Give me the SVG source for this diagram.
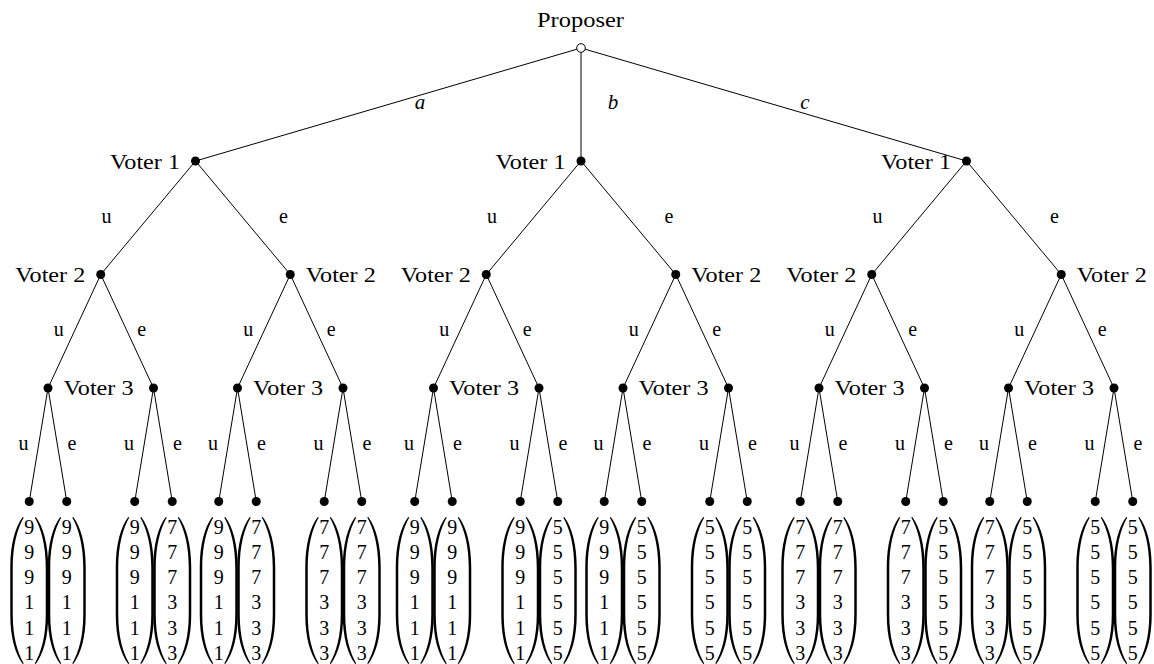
<svg xmlns="http://www.w3.org/2000/svg" xmlns:xlink="http://www.w3.org/1999/xlink" width="1154" height="664" viewBox="0 0 1154 664">
<style>
.lbl{font-family:"Liberation Serif","Times New Roman",serif;font-size:21px;fill:#000}
.it{font-family:"Liberation Serif","Times New Roman",serif;font-size:21px;font-style:italic;fill:#000;text-anchor:middle}
.el{font-family:"Liberation Serif","Times New Roman",serif;font-size:20px;fill:#000;text-anchor:middle}
.num{font-family:"Liberation Serif","Times New Roman",serif;font-size:20px;fill:#000;text-anchor:middle}
.end{text-anchor:end}
.edge line{stroke:#000;stroke-width:1}
.dot{fill:#000}
</style>
<defs>
<path id="lp" d="M -6.5,517 C -14,527 -19,544 -19,568 L -19,614 C -19,638 -14,654 -6.5,664 L -5.5,663.5 C -12,652 -16.5,637 -16.5,614 L -16.5,568 C -16.5,545 -12,529 -5.5,517.5 Z" fill="#000"/>
</defs>
<rect width="1154" height="664" fill="#fff"/>
<g id="connectors" class="edge">
<line x1="581" y1="48" x2="195.5" y2="161"/><line x1="581" y1="48" x2="581" y2="161"/><line x1="581" y1="48" x2="966.5" y2="161"/>
<line x1="195.5" y1="161" x2="100.75" y2="274.5"/><line x1="195.5" y1="161" x2="290.25" y2="274.5"/>
<line x1="100.75" y1="274.5" x2="48" y2="388"/><line x1="100.75" y1="274.5" x2="153.5" y2="388"/>
<line x1="290.25" y1="274.5" x2="237.5" y2="388"/><line x1="290.25" y1="274.5" x2="343" y2="388"/>
<line x1="48" y1="388" x2="29.25" y2="501.5"/><line x1="48" y1="388" x2="66.75" y2="501.5"/>
<line x1="153.5" y1="388" x2="134.75" y2="501.5"/><line x1="153.5" y1="388" x2="172.25" y2="501.5"/>
<line x1="237.5" y1="388" x2="218.75" y2="501.5"/><line x1="237.5" y1="388" x2="256.25" y2="501.5"/>
<line x1="343" y1="388" x2="324.25" y2="501.5"/><line x1="343" y1="388" x2="361.75" y2="501.5"/>
<line x1="581" y1="161" x2="486.25" y2="274.5"/><line x1="581" y1="161" x2="675.75" y2="274.5"/>
<line x1="486.25" y1="274.5" x2="433.5" y2="388"/><line x1="486.25" y1="274.5" x2="539" y2="388"/>
<line x1="675.75" y1="274.5" x2="623" y2="388"/><line x1="675.75" y1="274.5" x2="728.5" y2="388"/>
<line x1="433.5" y1="388" x2="414.75" y2="501.5"/><line x1="433.5" y1="388" x2="452.25" y2="501.5"/>
<line x1="539" y1="388" x2="520.25" y2="501.5"/><line x1="539" y1="388" x2="557.75" y2="501.5"/>
<line x1="623" y1="388" x2="604.25" y2="501.5"/><line x1="623" y1="388" x2="641.75" y2="501.5"/>
<line x1="728.5" y1="388" x2="709.75" y2="501.5"/><line x1="728.5" y1="388" x2="747.25" y2="501.5"/>
<line x1="966.5" y1="161" x2="871.75" y2="274.5"/><line x1="966.5" y1="161" x2="1061.25" y2="274.5"/>
<line x1="871.75" y1="274.5" x2="819" y2="388"/><line x1="871.75" y1="274.5" x2="924.5" y2="388"/>
<line x1="1061.25" y1="274.5" x2="1008.5" y2="388"/><line x1="1061.25" y1="274.5" x2="1114" y2="388"/>
<line x1="819" y1="388" x2="800.25" y2="501.5"/><line x1="819" y1="388" x2="837.75" y2="501.5"/>
<line x1="924.5" y1="388" x2="905.75" y2="501.5"/><line x1="924.5" y1="388" x2="943.25" y2="501.5"/>
<line x1="1008.5" y1="388" x2="989.75" y2="501.5"/><line x1="1008.5" y1="388" x2="1027.25" y2="501.5"/>
<line x1="1114" y1="388" x2="1095.25" y2="501.5"/><line x1="1114" y1="388" x2="1132.75" y2="501.5"/>
</g>
<g id="edge-labels">
<text class="it" x="420" y="109">a</text><text class="it" x="613" y="109">b</text><text class="it" x="805" y="109">c</text>
<text class="el" x="106.5" y="223">u</text><text class="el" x="283.5" y="223">e</text>
<text class="el" x="492" y="223">u</text><text class="el" x="669" y="223">e</text>
<text class="el" x="877.5" y="223">u</text><text class="el" x="1054.5" y="223">e</text>
<text class="el" x="58.75" y="336">u</text><text class="el" x="141.75" y="336">e</text>
<text class="el" x="248.25" y="336">u</text><text class="el" x="331.25" y="336">e</text>
<text class="el" x="444.25" y="336">u</text><text class="el" x="527.25" y="336">e</text>
<text class="el" x="633.75" y="336">u</text><text class="el" x="716.75" y="336">e</text>
<text class="el" x="829.75" y="336">u</text><text class="el" x="912.75" y="336">e</text>
<text class="el" x="1019.25" y="336">u</text><text class="el" x="1102.25" y="336">e</text>
<text class="el" x="23.5" y="450">u</text><text class="el" x="72" y="450">e</text>
<text class="el" x="129" y="450">u</text><text class="el" x="177.5" y="450">e</text>
<text class="el" x="213" y="450">u</text><text class="el" x="261.5" y="450">e</text>
<text class="el" x="318.5" y="450">u</text><text class="el" x="367" y="450">e</text>
<text class="el" x="409" y="450">u</text><text class="el" x="457.5" y="450">e</text>
<text class="el" x="514.5" y="450">u</text><text class="el" x="563" y="450">e</text>
<text class="el" x="598.5" y="450">u</text><text class="el" x="647" y="450">e</text>
<text class="el" x="704" y="450">u</text><text class="el" x="752.5" y="450">e</text>
<text class="el" x="794.5" y="450">u</text><text class="el" x="843" y="450">e</text>
<text class="el" x="900" y="450">u</text><text class="el" x="948.5" y="450">e</text>
<text class="el" x="984" y="450">u</text><text class="el" x="1032.5" y="450">e</text>
<text class="el" x="1089.5" y="450">u</text><text class="el" x="1138" y="450">e</text>
</g>
<g id="proposer"><circle cx="581" cy="48" r="4.3" fill="#fff" stroke="#000" stroke-width="1"/><text class="lbl" x="537" y="27" textLength="87" lengthAdjust="spacingAndGlyphs">Proposer</text></g>
<g id="v1a"><circle class="dot" cx="195.5" cy="161" r="4.5"/><text class="lbl" x="110" y="169" textLength="70" lengthAdjust="spacingAndGlyphs">Voter 1</text></g>
<g id="v1b"><circle class="dot" cx="581" cy="161" r="4.5"/><text class="lbl" x="495.5" y="169" textLength="70" lengthAdjust="spacingAndGlyphs">Voter 1</text></g>
<g id="v1c"><circle class="dot" cx="966.5" cy="161" r="4.5"/><text class="lbl" x="881" y="169" textLength="70" lengthAdjust="spacingAndGlyphs">Voter 1</text></g>
<g id="v2a1"><circle class="dot" cx="100.75" cy="274.5" r="4.5"/><text class="lbl" x="15.25" y="282" textLength="70" lengthAdjust="spacingAndGlyphs">Voter 2</text></g>
<g id="v2a2"><circle class="dot" cx="290.25" cy="274.5" r="4.5"/><text class="lbl" x="305.75" y="282" textLength="70" lengthAdjust="spacingAndGlyphs">Voter 2</text></g>
<g id="v2b1"><circle class="dot" cx="486.25" cy="274.5" r="4.5"/><text class="lbl" x="400.75" y="282" textLength="70" lengthAdjust="spacingAndGlyphs">Voter 2</text></g>
<g id="v2b2"><circle class="dot" cx="675.75" cy="274.5" r="4.5"/><text class="lbl" x="691.25" y="282" textLength="70" lengthAdjust="spacingAndGlyphs">Voter 2</text></g>
<g id="v2c1"><circle class="dot" cx="871.75" cy="274.5" r="4.5"/><text class="lbl" x="786.25" y="282" textLength="70" lengthAdjust="spacingAndGlyphs">Voter 2</text></g>
<g id="v2c2"><circle class="dot" cx="1061.25" cy="274.5" r="4.5"/><text class="lbl" x="1076.75" y="282" textLength="70" lengthAdjust="spacingAndGlyphs">Voter 2</text></g>
<g id="v3a1"><circle class="dot" cx="48" cy="388" r="4.5"/><text class="lbl" x="63.5" y="395" textLength="70" lengthAdjust="spacingAndGlyphs">Voter 3</text></g>
<g id="v3a2"><circle class="dot" cx="153.5" cy="388" r="4.5"/></g>
<g id="v3a3"><circle class="dot" cx="237.5" cy="388" r="4.5"/><text class="lbl" x="253" y="395" textLength="70" lengthAdjust="spacingAndGlyphs">Voter 3</text></g>
<g id="v3a4"><circle class="dot" cx="343" cy="388" r="4.5"/></g>
<g id="v3b1"><circle class="dot" cx="433.5" cy="388" r="4.5"/><text class="lbl" x="449" y="395" textLength="70" lengthAdjust="spacingAndGlyphs">Voter 3</text></g>
<g id="v3b2"><circle class="dot" cx="539" cy="388" r="4.5"/></g>
<g id="v3b3"><circle class="dot" cx="623" cy="388" r="4.5"/><text class="lbl" x="638.5" y="395" textLength="70" lengthAdjust="spacingAndGlyphs">Voter 3</text></g>
<g id="v3b4"><circle class="dot" cx="728.5" cy="388" r="4.5"/></g>
<g id="v3c1"><circle class="dot" cx="819" cy="388" r="4.5"/><text class="lbl" x="834.5" y="395" textLength="70" lengthAdjust="spacingAndGlyphs">Voter 3</text></g>
<g id="v3c2"><circle class="dot" cx="924.5" cy="388" r="4.5"/></g>
<g id="v3c3"><circle class="dot" cx="1008.5" cy="388" r="4.5"/><text class="lbl" x="1024" y="395" textLength="70" lengthAdjust="spacingAndGlyphs">Voter 3</text></g>
<g id="v3c4"><circle class="dot" cx="1114" cy="388" r="4.5"/></g>

<g id="leaf1" transform="translate(29.25,0)"><circle class="dot" cx="0" cy="501.5" r="4.5"/><use xlink:href="#lp" href="#lp"/><use xlink:href="#lp" href="#lp" transform="scale(-1,1)"/><text class="num"><tspan x="0" y="533.5">9</tspan><tspan x="0" y="558.8">9</tspan><tspan x="0" y="584.1">9</tspan><tspan x="0" y="609.4">1</tspan><tspan x="0" y="634.7">1</tspan><tspan x="0" y="660">1</tspan></text></g>
<g id="leaf2" transform="translate(66.75,0)"><circle class="dot" cx="0" cy="501.5" r="4.5"/><use xlink:href="#lp" href="#lp"/><use xlink:href="#lp" href="#lp" transform="scale(-1,1)"/><text class="num"><tspan x="0" y="533.5">9</tspan><tspan x="0" y="558.8">9</tspan><tspan x="0" y="584.1">9</tspan><tspan x="0" y="609.4">1</tspan><tspan x="0" y="634.7">1</tspan><tspan x="0" y="660">1</tspan></text></g>
<g id="leaf3" transform="translate(134.75,0)"><circle class="dot" cx="0" cy="501.5" r="4.5"/><use xlink:href="#lp" href="#lp"/><use xlink:href="#lp" href="#lp" transform="scale(-1,1)"/><text class="num"><tspan x="0" y="533.5">9</tspan><tspan x="0" y="558.8">9</tspan><tspan x="0" y="584.1">9</tspan><tspan x="0" y="609.4">1</tspan><tspan x="0" y="634.7">1</tspan><tspan x="0" y="660">1</tspan></text></g>
<g id="leaf4" transform="translate(172.25,0)"><circle class="dot" cx="0" cy="501.5" r="4.5"/><use xlink:href="#lp" href="#lp"/><use xlink:href="#lp" href="#lp" transform="scale(-1,1)"/><text class="num"><tspan x="0" y="533.5">7</tspan><tspan x="0" y="558.8">7</tspan><tspan x="0" y="584.1">7</tspan><tspan x="0" y="609.4">3</tspan><tspan x="0" y="634.7">3</tspan><tspan x="0" y="660">3</tspan></text></g>
<g id="leaf5" transform="translate(218.75,0)"><circle class="dot" cx="0" cy="501.5" r="4.5"/><use xlink:href="#lp" href="#lp"/><use xlink:href="#lp" href="#lp" transform="scale(-1,1)"/><text class="num"><tspan x="0" y="533.5">9</tspan><tspan x="0" y="558.8">9</tspan><tspan x="0" y="584.1">9</tspan><tspan x="0" y="609.4">1</tspan><tspan x="0" y="634.7">1</tspan><tspan x="0" y="660">1</tspan></text></g>
<g id="leaf6" transform="translate(256.25,0)"><circle class="dot" cx="0" cy="501.5" r="4.5"/><use xlink:href="#lp" href="#lp"/><use xlink:href="#lp" href="#lp" transform="scale(-1,1)"/><text class="num"><tspan x="0" y="533.5">7</tspan><tspan x="0" y="558.8">7</tspan><tspan x="0" y="584.1">7</tspan><tspan x="0" y="609.4">3</tspan><tspan x="0" y="634.7">3</tspan><tspan x="0" y="660">3</tspan></text></g>
<g id="leaf7" transform="translate(324.25,0)"><circle class="dot" cx="0" cy="501.5" r="4.5"/><use xlink:href="#lp" href="#lp"/><use xlink:href="#lp" href="#lp" transform="scale(-1,1)"/><text class="num"><tspan x="0" y="533.5">7</tspan><tspan x="0" y="558.8">7</tspan><tspan x="0" y="584.1">7</tspan><tspan x="0" y="609.4">3</tspan><tspan x="0" y="634.7">3</tspan><tspan x="0" y="660">3</tspan></text></g>
<g id="leaf8" transform="translate(361.75,0)"><circle class="dot" cx="0" cy="501.5" r="4.5"/><use xlink:href="#lp" href="#lp"/><use xlink:href="#lp" href="#lp" transform="scale(-1,1)"/><text class="num"><tspan x="0" y="533.5">7</tspan><tspan x="0" y="558.8">7</tspan><tspan x="0" y="584.1">7</tspan><tspan x="0" y="609.4">3</tspan><tspan x="0" y="634.7">3</tspan><tspan x="0" y="660">3</tspan></text></g>

<g id="leaf9" transform="translate(414.75,0)"><circle class="dot" cx="0" cy="501.5" r="4.5"/><use xlink:href="#lp" href="#lp"/><use xlink:href="#lp" href="#lp" transform="scale(-1,1)"/><text class="num"><tspan x="0" y="533.5">9</tspan><tspan x="0" y="558.8">9</tspan><tspan x="0" y="584.1">9</tspan><tspan x="0" y="609.4">1</tspan><tspan x="0" y="634.7">1</tspan><tspan x="0" y="660">1</tspan></text></g>
<g id="leaf10" transform="translate(452.25,0)"><circle class="dot" cx="0" cy="501.5" r="4.5"/><use xlink:href="#lp" href="#lp"/><use xlink:href="#lp" href="#lp" transform="scale(-1,1)"/><text class="num"><tspan x="0" y="533.5">9</tspan><tspan x="0" y="558.8">9</tspan><tspan x="0" y="584.1">9</tspan><tspan x="0" y="609.4">1</tspan><tspan x="0" y="634.7">1</tspan><tspan x="0" y="660">1</tspan></text></g>
<g id="leaf11" transform="translate(520.25,0)"><circle class="dot" cx="0" cy="501.5" r="4.5"/><use xlink:href="#lp" href="#lp"/><use xlink:href="#lp" href="#lp" transform="scale(-1,1)"/><text class="num"><tspan x="0" y="533.5">9</tspan><tspan x="0" y="558.8">9</tspan><tspan x="0" y="584.1">9</tspan><tspan x="0" y="609.4">1</tspan><tspan x="0" y="634.7">1</tspan><tspan x="0" y="660">1</tspan></text></g>
<g id="leaf12" transform="translate(557.75,0)"><circle class="dot" cx="0" cy="501.5" r="4.5"/><use xlink:href="#lp" href="#lp"/><use xlink:href="#lp" href="#lp" transform="scale(-1,1)"/><text class="num"><tspan x="0" y="533.5">5</tspan><tspan x="0" y="558.8">5</tspan><tspan x="0" y="584.1">5</tspan><tspan x="0" y="609.4">5</tspan><tspan x="0" y="634.7">5</tspan><tspan x="0" y="660">5</tspan></text></g>
<g id="leaf13" transform="translate(604.25,0)"><circle class="dot" cx="0" cy="501.5" r="4.5"/><use xlink:href="#lp" href="#lp"/><use xlink:href="#lp" href="#lp" transform="scale(-1,1)"/><text class="num"><tspan x="0" y="533.5">9</tspan><tspan x="0" y="558.8">9</tspan><tspan x="0" y="584.1">9</tspan><tspan x="0" y="609.4">1</tspan><tspan x="0" y="634.7">1</tspan><tspan x="0" y="660">1</tspan></text></g>
<g id="leaf14" transform="translate(641.75,0)"><circle class="dot" cx="0" cy="501.5" r="4.5"/><use xlink:href="#lp" href="#lp"/><use xlink:href="#lp" href="#lp" transform="scale(-1,1)"/><text class="num"><tspan x="0" y="533.5">5</tspan><tspan x="0" y="558.8">5</tspan><tspan x="0" y="584.1">5</tspan><tspan x="0" y="609.4">5</tspan><tspan x="0" y="634.7">5</tspan><tspan x="0" y="660">5</tspan></text></g>
<g id="leaf15" transform="translate(709.75,0)"><circle class="dot" cx="0" cy="501.5" r="4.5"/><use xlink:href="#lp" href="#lp"/><use xlink:href="#lp" href="#lp" transform="scale(-1,1)"/><text class="num"><tspan x="0" y="533.5">5</tspan><tspan x="0" y="558.8">5</tspan><tspan x="0" y="584.1">5</tspan><tspan x="0" y="609.4">5</tspan><tspan x="0" y="634.7">5</tspan><tspan x="0" y="660">5</tspan></text></g>
<g id="leaf16" transform="translate(747.25,0)"><circle class="dot" cx="0" cy="501.5" r="4.5"/><use xlink:href="#lp" href="#lp"/><use xlink:href="#lp" href="#lp" transform="scale(-1,1)"/><text class="num"><tspan x="0" y="533.5">5</tspan><tspan x="0" y="558.8">5</tspan><tspan x="0" y="584.1">5</tspan><tspan x="0" y="609.4">5</tspan><tspan x="0" y="634.7">5</tspan><tspan x="0" y="660">5</tspan></text></g>

<g id="leaf17" transform="translate(800.25,0)"><circle class="dot" cx="0" cy="501.5" r="4.5"/><use xlink:href="#lp" href="#lp"/><use xlink:href="#lp" href="#lp" transform="scale(-1,1)"/><text class="num"><tspan x="0" y="533.5">7</tspan><tspan x="0" y="558.8">7</tspan><tspan x="0" y="584.1">7</tspan><tspan x="0" y="609.4">3</tspan><tspan x="0" y="634.7">3</tspan><tspan x="0" y="660">3</tspan></text></g>
<g id="leaf18" transform="translate(837.75,0)"><circle class="dot" cx="0" cy="501.5" r="4.5"/><use xlink:href="#lp" href="#lp"/><use xlink:href="#lp" href="#lp" transform="scale(-1,1)"/><text class="num"><tspan x="0" y="533.5">7</tspan><tspan x="0" y="558.8">7</tspan><tspan x="0" y="584.1">7</tspan><tspan x="0" y="609.4">3</tspan><tspan x="0" y="634.7">3</tspan><tspan x="0" y="660">3</tspan></text></g>
<g id="leaf19" transform="translate(905.75,0)"><circle class="dot" cx="0" cy="501.5" r="4.5"/><use xlink:href="#lp" href="#lp"/><use xlink:href="#lp" href="#lp" transform="scale(-1,1)"/><text class="num"><tspan x="0" y="533.5">7</tspan><tspan x="0" y="558.8">7</tspan><tspan x="0" y="584.1">7</tspan><tspan x="0" y="609.4">3</tspan><tspan x="0" y="634.7">3</tspan><tspan x="0" y="660">3</tspan></text></g>
<g id="leaf20" transform="translate(943.25,0)"><circle class="dot" cx="0" cy="501.5" r="4.5"/><use xlink:href="#lp" href="#lp"/><use xlink:href="#lp" href="#lp" transform="scale(-1,1)"/><text class="num"><tspan x="0" y="533.5">5</tspan><tspan x="0" y="558.8">5</tspan><tspan x="0" y="584.1">5</tspan><tspan x="0" y="609.4">5</tspan><tspan x="0" y="634.7">5</tspan><tspan x="0" y="660">5</tspan></text></g>
<g id="leaf21" transform="translate(989.75,0)"><circle class="dot" cx="0" cy="501.5" r="4.5"/><use xlink:href="#lp" href="#lp"/><use xlink:href="#lp" href="#lp" transform="scale(-1,1)"/><text class="num"><tspan x="0" y="533.5">7</tspan><tspan x="0" y="558.8">7</tspan><tspan x="0" y="584.1">7</tspan><tspan x="0" y="609.4">3</tspan><tspan x="0" y="634.7">3</tspan><tspan x="0" y="660">3</tspan></text></g>
<g id="leaf22" transform="translate(1027.25,0)"><circle class="dot" cx="0" cy="501.5" r="4.5"/><use xlink:href="#lp" href="#lp"/><use xlink:href="#lp" href="#lp" transform="scale(-1,1)"/><text class="num"><tspan x="0" y="533.5">5</tspan><tspan x="0" y="558.8">5</tspan><tspan x="0" y="584.1">5</tspan><tspan x="0" y="609.4">5</tspan><tspan x="0" y="634.7">5</tspan><tspan x="0" y="660">5</tspan></text></g>
<g id="leaf23" transform="translate(1095.25,0)"><circle class="dot" cx="0" cy="501.5" r="4.5"/><use xlink:href="#lp" href="#lp"/><use xlink:href="#lp" href="#lp" transform="scale(-1,1)"/><text class="num"><tspan x="0" y="533.5">5</tspan><tspan x="0" y="558.8">5</tspan><tspan x="0" y="584.1">5</tspan><tspan x="0" y="609.4">5</tspan><tspan x="0" y="634.7">5</tspan><tspan x="0" y="660">5</tspan></text></g>
<g id="leaf24" transform="translate(1132.75,0)"><circle class="dot" cx="0" cy="501.5" r="4.5"/><use xlink:href="#lp" href="#lp"/><use xlink:href="#lp" href="#lp" transform="scale(-1,1)"/><text class="num"><tspan x="0" y="533.5">5</tspan><tspan x="0" y="558.8">5</tspan><tspan x="0" y="584.1">5</tspan><tspan x="0" y="609.4">5</tspan><tspan x="0" y="634.7">5</tspan><tspan x="0" y="660">5</tspan></text></g>
</svg>
